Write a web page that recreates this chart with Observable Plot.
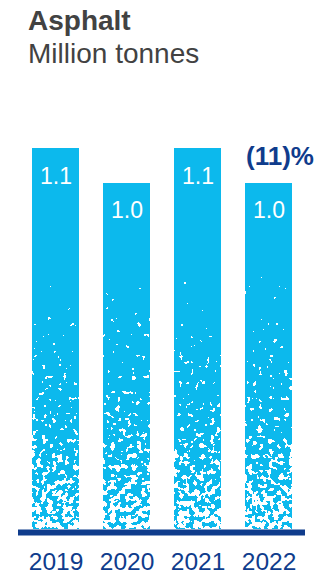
<!DOCTYPE html>
<html>
<head>
<meta charset="utf-8">
<script src="https://cdn.jsdelivr.net/npm/d3@7"></script>
<script src="https://cdn.jsdelivr.net/npm/@observablehq/plot@0.6"></script>
<style>
  html, body { margin: 0; padding: 0; background: #fff; }
  body { width: 326px; height: 576px; overflow: hidden; font-family: "Liberation Sans", Arial, Helvetica, sans-serif; }
  .title { padding: 4px 0 0 28px; font-size: 28px; line-height: 33px; color: #424242; }
  .title b { font-weight: bold; }
  #chart svg { display: block; overflow: visible; }
</style>
</head>
<body>
<div class="title"><b>Asphalt</b><br>Million tonnes</div>
<div id="chart"></div>
<script>
const years = ["2019", "2020", "2021", "2022"];
const values = [1.1, 1.0, 1.1, 1.0];
const valueLabels = ["1.1", "1.0", "1.1", "1.0"];
const changeYear = "2022";
const changeValue = 1.0;
const changeLabel = "(11)%";

const blue = "#0cb9ed";
const navy = "#0f3c8c";

const data = years.map((year, i) => ({year, value: values[i], label: valueLabels[i]}));

const chart = Plot.plot({
  width: 326,
  height: 506,
  marginTop: 78,
  marginBottom: 47,
  marginLeft: 31,
  marginRight: 33,
  x: {domain: years, paddingInner: 0.345, paddingOuter: 0, axis: null},
  y: {domain: [0, 1.1], axis: null},
  style: {fontFamily: "Liberation Sans, Arial, Helvetica, sans-serif", background: "transparent", overflow: "visible"},
  marks: [
    Plot.barY(data, {x: "year", y: "value", fill: "url(#barGrad)", shapeRendering: "crispEdges"}),
    Plot.ruleY([0], {stroke: navy, strokeWidth: 6, dy: 3, insetLeft: -13, insetRight: -12}),
    Plot.text(data, {x: "year", y: "value", text: "label", fill: "white", fontSize: 23, lineAnchor: "bottom", dy: 35}),
    Plot.text(data, {x: "year", text: "year", frameAnchor: "bottom", lineAnchor: "bottom", dy: 40, fill: navy, fontSize: 24.5}),
    Plot.text([{year: changeYear, value: changeValue, label: changeLabel}], {
      x: "year", y: "value", text: "label", textAnchor: "start", lineAnchor: "bottom",
      dx: -23, dy: -18, fontWeight: "bold", fontSize: 26, fill: navy
    })
  ]
});

document.getElementById("chart").appendChild(chart);

// speckled dissolve towards the baseline
const y0 = chart.scale("y").apply(0);
const ns = "http://www.w3.org/2000/svg";
const defs = document.createElementNS(ns, "defs");
defs.innerHTML = `
  <linearGradient id="barGrad" gradientUnits="userSpaceOnUse" x1="0" x2="0" y1="${y0 - 262}" y2="${y0}">
    <stop offset="0" stop-color="${blue}" stop-opacity="1"/>
    <stop offset="0.05" stop-color="${blue}" stop-opacity="0.8"/>
    <stop offset="0.5" stop-color="${blue}" stop-opacity="0.69"/>
    <stop offset="1" stop-color="${blue}" stop-opacity="0.47"/>
  </linearGradient>
  <filter id="speckle" filterUnits="userSpaceOnUse" x="0" y="0" width="326" height="506" color-interpolation-filters="sRGB">
    <feTurbulence type="fractalNoise" baseFrequency="0.19" numOctaves="2" seed="7" result="noise"/>
    <feComposite in="SourceAlpha" in2="noise" operator="arithmetic" k1="0" k2="1" k3="1" k4="-0.5" result="sum"/>
    <feComponentTransfer in="sum" result="mask"><feFuncA type="discrete" tableValues="0 1"/></feComponentTransfer>
    <feFlood flood-color="${blue}" result="c"/>
    <feComposite in="c" in2="mask" operator="in"/>
  </filter>`;
chart.insertBefore(defs, chart.firstChild);
const barGroup = chart.querySelector('g[aria-label="bar"]');
if (barGroup) barGroup.setAttribute("filter", "url(#speckle)");
</script>
</body>
</html>
